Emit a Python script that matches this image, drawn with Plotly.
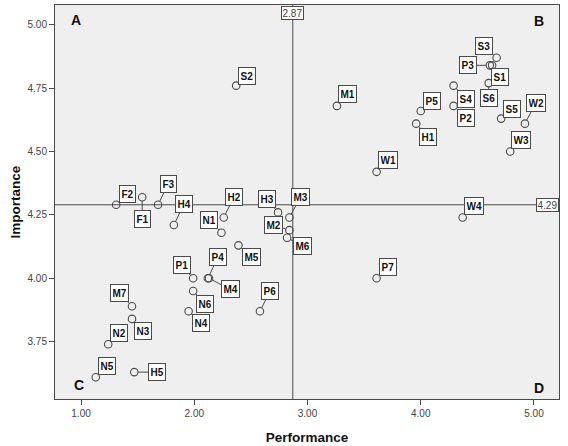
import plotly.graph_objects as go

# ---- data ----
labels = ["S1", "S2", "S3", "S4", "S5", "S6",
          "W1", "W2", "W3", "W4",
          "P1", "P2", "P3", "P4", "P5", "P6", "P7",
          "M1", "M2", "M3", "M4", "M5", "M6", "M7",
          "H1", "H2", "H3", "H4", "H5",
          "N1", "N2", "N3", "N4", "N5", "N6",
          "F1", "F2", "F3"]
performance = [4.63, 2.37, 4.67, 4.29, 4.71, 4.60,
               3.61, 4.92, 4.79, 4.37,
               1.99, 4.29, 4.61, 2.12, 4.00, 2.58, 3.61,
               3.26, 2.84, 2.84, 2.13, 2.39, 2.82, 1.45,
               3.96, 2.26, 2.74, 1.82, 1.47,
               2.24, 1.24, 1.45, 1.95, 1.13, 1.99,
               1.54, 1.31, 1.68]
importance = [4.84, 4.76, 4.87, 4.76, 4.63, 4.77,
              4.42, 4.61, 4.50, 4.24,
              4.00, 4.68, 4.84, 4.00, 4.66, 3.87, 4.00,
              4.68, 4.19, 4.24, 4.00, 4.13, 4.16, 3.89,
              4.61, 4.24, 4.26, 4.21, 3.63,
              4.18, 3.74, 3.84, 3.87, 3.61, 3.95,
              4.32, 4.29, 4.29]
mean_performance = 2.87
mean_importance = 4.29
x_ticks = [1.0, 2.0, 3.0, 4.0, 5.0]
y_ticks = [3.75, 4.0, 4.25, 4.5, 4.75, 5.0]
quadrants = ["A", "B", "C", "D"]

# ---- label placement (pixel offsets of each label box from its point) ----
label_offsets = {
    "S1": (8, 12), "S2": (11, -10), "S3": (-13, -12), "S4": (12, 13), "S5": (11, -10), "S6": (0, 15),
    "W1": (11, -12), "W2": (11, -21), "W3": (11, -12), "W4": (11, -11),
    "P1": (-11, -13), "P2": (12, 12), "P3": (-22, 0), "P4": (10, -21), "P5": (11, -10), "P6": (10, -20), "P7": (11, -11),
    "M1": (11, -12), "M2": (-16, -5), "M3": (11, -20), "M4": (21, 11), "M5": (13, 12), "M6": (15, 8), "M7": (-13, -13),
    "H1": (12, 13), "H2": (10, -20), "H3": (-11, -13), "H4": (10, -21), "H5": (23, 0),
    "N1": (-12, -13), "N2": (11, -11), "N3": (11, 12), "N4": (12, 12), "N5": (11, -11), "N6": (12, 13),
    "F1": (0, 22), "F2": (11, -11), "F3": (10, -21),
}

FONT = "Arial, Liberation Sans, sans-serif"
DARK = "#4a4a4a"

fig = go.Figure()
fig.add_trace(go.Scatter(
    x=performance, y=importance, mode="markers",
    marker=dict(symbol="circle-open", size=7.5, color=DARK, line=dict(width=1.1, color=DARK)),
    hoverinfo="skip", showlegend=False,
))

annotations = []
for lab, px, py in zip(labels, performance, importance):
    ax, ay = label_offsets[lab]
    annotations.append(dict(
        x=px, y=py, xref="x", yref="y", ax=ax, ay=ay,
        text="<b>%s</b>" % lab, showarrow=True, arrowhead=0, arrowwidth=1,
        arrowcolor=DARK, standoff=3.5, height=13,
        font=dict(family=FONT, size=10, color="#111111"),
        bgcolor="white", bordercolor=DARK, borderwidth=1, borderpad=1.5,
    ))

# reference value labels
annotations.append(dict(x=mean_performance, y=1, xref="x", yref="paper", yanchor="top", yshift=-1,
                        text="%.2f" % mean_performance, showarrow=False,
                        font=dict(family=FONT, size=10, color="#444444"),
                        bgcolor="white", bordercolor=DARK, borderwidth=1, borderpad=0.5))
annotations.append(dict(x=1, y=mean_importance, xref="paper", yref="y", xanchor="right",
                        text="%.2f" % mean_importance, showarrow=False,
                        font=dict(family=FONT, size=10, color="#444444"),
                        bgcolor="white", bordercolor=DARK, borderwidth=1, borderpad=0.5))

# quadrant letters
quad_pos = [(0.027, 0.963, "left", "middle"), (0.975, 0.96, "right", "middle"),
            (0.033, 0.035, "left", "middle"), (0.975, 0.027, "right", "middle")]
for q, (qx, qy, xa, ya) in zip(quadrants, quad_pos):
    annotations.append(dict(x=qx, y=qy, xref="paper", yref="paper", xanchor=xa, yanchor=ya,
                            text="<b>%s</b>" % q, showarrow=False,
                            font=dict(family=FONT, size=14, color="#111111")))

fig.add_shape(type="line", x0=mean_performance, x1=mean_performance, y0=0, y1=1,
              xref="x", yref="paper", line=dict(color=DARK, width=1), layer="below")
fig.add_shape(type="line", x0=0, x1=1, y0=mean_importance, y1=mean_importance,
              xref="paper", yref="y", line=dict(color=DARK, width=1), layer="below")

axis_common = dict(showgrid=False, zeroline=False, showline=True, linecolor=DARK, linewidth=1,
                   mirror=True, ticks="outside", ticklen=5, tickcolor=DARK,
                   tickfont=dict(family=FONT, size=10, color="#444444"))

fig.update_layout(
    width=568, height=446,
    margin=dict(l=55, r=9, t=4, b=45),
    paper_bgcolor="white", plot_bgcolor="#efefef",
    xaxis=dict(range=[0.77, 5.221], tickvals=x_ticks, ticktext=["%.2f" % v for v in x_ticks],
               title=dict(text="<b>Performance</b>", font=dict(family=FONT, size=13.5, color="#111111"), standoff=14),
               **axis_common),
    yaxis=dict(range=[3.524, 5.078], tickvals=y_ticks, ticktext=["%.2f" % v for v in y_ticks],
               title=dict(text="<b>Importance</b>", font=dict(family=FONT, size=13.5, color="#111111"), standoff=3),
               **axis_common),
    annotations=annotations,
)

fig.write_html("out.html")
